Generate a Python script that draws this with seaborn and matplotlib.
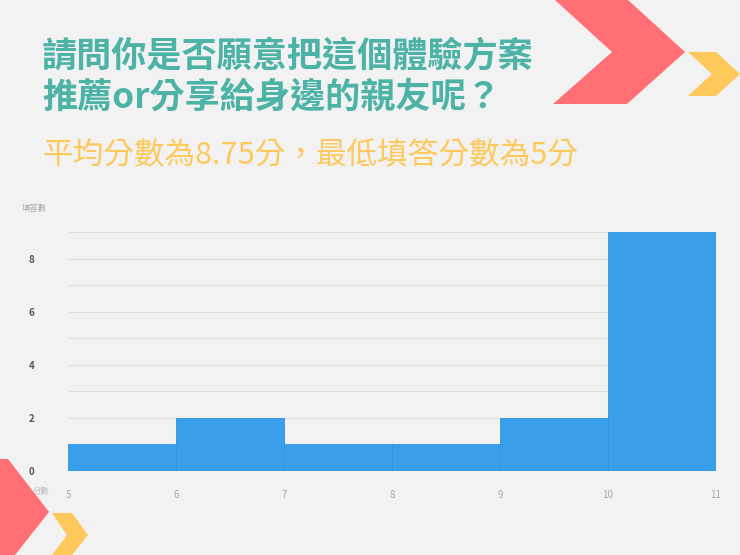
import matplotlib
matplotlib.use("Agg")
import matplotlib.pyplot as plt
from matplotlib.patches import Polygon
from matplotlib.ticker import MultipleLocator
import seaborn as sns

# 資料
scores = [5, 6, 7, 8, 9, 10]
counts = [1, 2, 1, 1, 2, 9]
bin_edges = [5, 6, 7, 8, 9, 10, 11]
x_ticks = [5, 6, 7, 8, 9, 10, 11]
y_ticks = [0, 2, 4, 6, 8]

title_lines = ["請問你是否願意把這個體驗方案", "推薦or分享給身邊的親友呢？"]
subtitle = "平均分數為8.75分，最低填答分數為5分"
y_label = "填答數"
x_label = "分數"

bg = "#f2f2f2"
teal = "#4cb3a6"
yellow = "#fec85a"
red = "#ff6f74"
blue = "#3a9fea"

sns.set_theme(style="white")
plt.rcParams['font.family'] = ['Noto Sans CJK TC', 'DejaVu Sans']

fig = plt.figure(figsize=(7.4, 5.55), dpi=100)
fig.patch.set_facecolor(bg)

W, H = 740, 555
def px(pts):
    return [(x / W, 1 - y / H) for x, y in pts]

# 裝飾箭頭
shapes = [
    ([(555, 0), (628, 0), (685, 52), (627, 104), (553, 104), (612, 52)], red),
    ([(688, 52), (716, 52), (740, 74), (716, 96), (688, 96), (712, 74)], yellow),
    ([(0, 459), (8, 459), (49, 512), (15, 555), (0, 555)], red),
    ([(52, 513), (72, 513), (88, 535), (72, 555), (52, 555), (67, 535)], yellow),
]
for pts, c in shapes:
    fig.patches.append(Polygon(px(pts), closed=True, transform=fig.transFigure,
                               facecolor=c, edgecolor="none", zorder=0))

# 標題
fig.text(42 / W, 1 - 57 / H, title_lines[0], color=teal, fontsize=25.3,
         fontweight="bold", va="center", ha="left")
fig.text(42 / W, 1 - 97 / H, title_lines[1], color=teal, fontsize=25.3,
         fontweight="bold", va="center", ha="left")
fig.text(42 / W, 1 - 156 / H, subtitle, color=yellow, fontsize=22.1,
         va="center", ha="left")

ax = fig.add_axes([68 / W, 84 / H, 648 / W, 239 / H])
ax.set_facecolor("none")

sns.histplot(x=scores, weights=counts, bins=bin_edges, ax=ax,
             color=blue, alpha=1, edgecolor="#2f93df", linewidth=0.6, zorder=2)

ax.set_xlim(5, 11)
ax.set_ylim(0, 9)
ax.set_xticks(x_ticks)
ax.set_yticks(y_ticks)
ax.yaxis.set_minor_locator(MultipleLocator(1))
ax.grid(True, which="both", axis="y", color="#dedede", linewidth=0.8, zorder=0)
ax.set_axisbelow(True)
for s in ax.spines.values():
    s.set_visible(False)
ax.tick_params(axis="y", labelsize=7, colors="#555555", length=0, pad=24)
for lab in ax.get_yticklabels():
    lab.set_fontweight("bold")
ax.tick_params(axis="x", labelsize=7, colors="#aaaaaa", length=0, pad=14)
ax.set_xlabel("")
ax.set_ylabel("")

fig.text(34 / W, 1 - 209 / H, y_label, color="#aaaaaa", fontsize=6,
         ha="center", va="center")
fig.text(41 / W, 1 - 491 / H, x_label, color="#bbbbbb", fontsize=6,
         ha="center", va="center", zorder=-1)

fig.savefig("out.png", dpi=100, facecolor=bg)
